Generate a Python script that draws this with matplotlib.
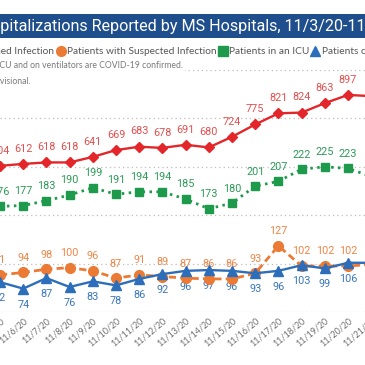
import matplotlib
matplotlib.use('Agg')
import matplotlib.pyplot as plt
from matplotlib.lines import Line2D
from matplotlib.patches import Rectangle
import numpy as np

# ---- data ----
dates = ['11/5/20', '11/6/20', '11/7/20', '11/8/20', '11/9/20', '11/10/20',
         '11/11/20', '11/12/20', '11/13/20', '11/14/20', '11/15/20', '11/16/20',
         '11/17/20', '11/18/20', '11/19/20', '11/20/20', '11/21/20']
confirmed = [604, 612, 618, 618, 641, 669, 683, 678, 691, 680, 724, 775, 821, 824, 863, 897, 892]
suspected = [91, 94, 98, 100, 96, 87, 91, 89, 87, 86, 86, 93, 127, 102, 102, 102, 104]
icu = [176, 177, 183, 190, 199, 191, 194, 194, 185, 173, 180, 201, 207, 222, 225, 223, 213]
vent = [82, 74, 87, 76, 83, 78, 86, 92, 96, 97, 96, 93, 96, 103, 99, 106, 106]

title_full = 'COVID-19 Hospitalizations Reported by MS Hospitals, 11/3/20-11/22/20'
title_hidden = 'COVID-19 Hos'
legend_items = ['Patients with Confirmed Infection', 'Patients with Suspected Infection',
                'Patients in an ICU', 'Patients on Ventilators']
note1 = 'Patients in an ICU and on ventilators are COVID-19 confirmed.'
note2 = 'Data are provisional.'

W = H = 365
fig = plt.figure(figsize=(3.65, 3.65), dpi=100)
fig.patch.set_facecolor('white')

def fx(px):
    return px / W

def fy(py):
    return 1 - py / H

LBL = ['Liberation Sans Narrow', 'Roboto']
TXT = ['Lato', 'DejaVu Sans']

# ---- axes ----
step = 23.2
xmax = 16.4
ax = fig.add_axes([0, fy(312), xmax * step / W, (312 - 70) / H])
ax.set_xlim(0, xmax)
ax.set_ylim(45, 345)
ax.set_yticks(np.arange(45, 346, 60))
ax.yaxis.grid(True, linestyle=(0, (1, 2.5)), color='#bdbdbd', lw=0.9)
ax.set_axisbelow(True)
for s in ax.spines.values():
    s.set_visible(False)
ax.tick_params(axis='y', length=0, labelleft=False)
x = np.arange(len(dates))
ax.set_xticks(x)
ax.set_xticklabels(dates, rotation=40, ha='right', rotation_mode='anchor',
                   fontsize=6.4, color='#6e6e6e', family=TXT)
ax.tick_params(axis='x', length=0, pad=3)

ax2 = ax.twinx()
ax2.set_ylim(0, 1000)
ax2.set_xlim(0, xmax)
for s in ax2.spines.values():
    s.set_visible(False)
ax2.tick_params(axis='y', length=0, labelright=False)

c_red, c_red_l = '#E3262A', '#E2504F'
c_grn, c_grn_l = '#1E9A4C', '#2E9A58'
c_org, c_org_l = '#EB7B34', '#EC8748'
c_blu, c_blu_l = '#2D6EBB', '#3A76BD'

ax.plot(x, icu, color=c_grn, lw=2.0, linestyle=(0, (0.9, 1.6)), marker='s', ms=5.5,
        zorder=3)
ax.plot(x, suspected, color=c_org, lw=2.0, linestyle=(0, (2.6, 1.5)), marker='o',
        ms=7, zorder=4)
ax.plot(x, vent, color=c_blu, lw=1.7, marker='^', ms=6.5, zorder=5)
ax2.plot(x, confirmed, color=c_red, lw=1.7, marker='D', ms=5.5, zorder=3)

def labels(a, vals, col, dy):
    for xi, v in zip(x, vals):
        if xi * step > W:
            continue
        a.annotate(str(v), (xi, v), xytext=(0, dy), textcoords='offset points',
                   ha='center', va='center', fontsize=7.8, color=col,
                   family=LBL, annotation_clip=False)

labels(ax, icu, c_grn_l, 10.5)
labels(ax, suspected, c_org_l, 10.5)
labels(ax, vent, c_blu_l, -11.5)
labels(ax2, confirmed, c_red_l, 11)

# ---- title banner ----
fig.add_artist(Rectangle((0, fy(38)), 1, (38 - 14) / H, transform=fig.transFigure,
                         facecolor='#1F4E8C', edgecolor='none', zorder=1))
r = fig.canvas.get_renderer()
tsize = 11.6
tmp = fig.text(0, 0, title_hidden, fontsize=tsize, family=['Roboto'])
hid_w = tmp.get_window_extent(r).width
tmp.remove()
fig.text(fx(-hid_w), fy(26.5), title_full, fontsize=tsize, family=['Roboto'],
         color='white', ha='left', va='center', zorder=2)

# ---- legend row ----
ly = 51
def lmark(px, marker, col, ms):
    fig.add_artist(Line2D([fx(px)], [fy(ly)], transform=fig.transFigure,
                          marker=marker, color=col, ms=ms, linestyle='none'))

fig.text(fx(54), fy(ly), legend_items[0], ha='right', va='center', fontsize=7.3,
         color='#555555', family=TXT)
lmark(61, 'o', c_org, 7)
fig.text(fx(67), fy(ly), legend_items[1], ha='left', va='center', fontsize=7.3,
         color='#555555', family=TXT)
lmark(223, 's', c_grn, 6.5)
fig.text(fx(229), fy(ly), legend_items[2], ha='left', va='center', fontsize=7.3,
         color='#555555', family=TXT)
lmark(315, '^', c_blu, 7)
fig.text(fx(322), fy(ly), legend_items[3], ha='left', va='center', fontsize=7.3,
         color='#555555', family=TXT)

# ---- notes box ----
fig.add_artist(Rectangle((0, fy(90)), fx(185), (90 - 57) / H,
                         transform=fig.transFigure, facecolor='white',
                         edgecolor='none', zorder=5))
fig.text(fx(183), fy(66), note1, ha='right', va='center', fontsize=6.2,
         color='#7a7a7a', family=TXT, zorder=6)
fig.text(fx(31), fy(82), note2, ha='right', va='center', fontsize=6.2,
         color='#7a7a7a', family=TXT, zorder=6)

fig.savefig('out.png', dpi=100)
